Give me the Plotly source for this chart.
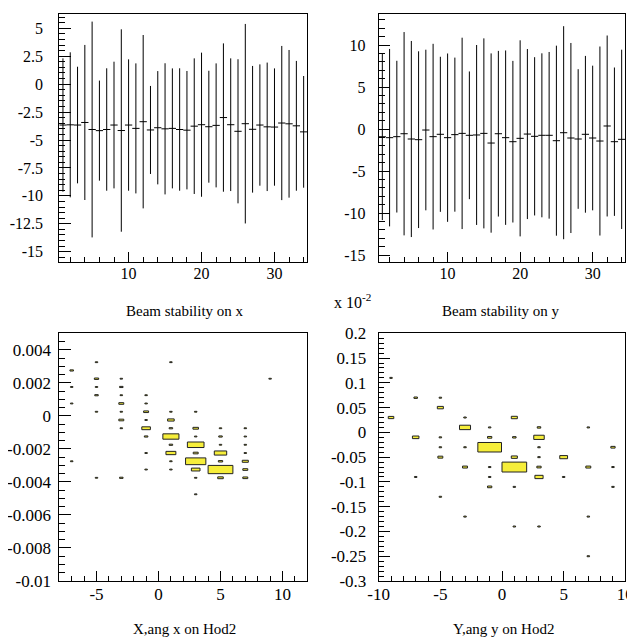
import plotly.graph_objects as go
import numpy as np

# reference canvas size and the page's default body margin
REF_W, REF_H = 635, 638
OFF = 8
W, H = REF_W - OFF, REF_H - OFF

# ---------------- data ----------------
bin_index = list(range(1, 35))
stab_x_mean = [-3.66, -3.64, -3.66, -3.43, -4.06, -4.16, -4.06, -3.66, -4.15, -3.66,
               -3.96, -3.36, -4.10, -3.90, -4.00, -3.96, -4.06, -4.12, -3.76, -3.63,
               -3.81, -3.69, -2.99, -3.63, -4.22, -3.54, -4.04, -3.66, -3.82, -3.84,
               -3.48, -3.55, -3.73, -4.27]
stab_x_err = [5.97, 6.49, 5.22, 6.94, 9.66, 4.48, 5.48, 5.67, 9.06, 5.88,
              5.82, 7.76, 3.94, 5.07, 5.87, 5.37, 5.48, 5.30, 6.07, 6.45,
              5.01, 5.55, 6.64, 5.94, 6.45, 8.93, 5.67, 5.43, 5.75, 5.25,
              6.90, 6.61, 5.81, 5.00]

stab_y_mean = [-0.92, -1.03, -0.91, -0.56, -1.19, -1.27, -0.12, -0.91, -0.63, -1.03,
               -0.67, -0.52, -0.75, -0.71, -0.52, -1.67, -0.56, -1.03, -1.51, -1.11,
               -0.60, -0.87, -0.75, -0.75, -1.39, -0.44, -1.07, -1.19, -0.63, -1.07,
               -1.43, 0.36, -1.51, -1.23]
stab_y_err = [9.92, 10.56, 9.03, 12.10, 11.67, 10.52, 9.56, 11.05, 9.23, 10.02,
              9.17, 11.39, 7.60, 10.71, 11.31, 10.67, 9.86, 10.38, 9.62, 11.67,
              10.12, 9.42, 9.76, 9.92, 11.31, 12.68, 11.31, 8.31, 9.33, 8.61,
              11.25, 10.77, 8.83, 10.67]

# X vs angle x on Hod2 (2D histogram cells: bin centre x, bin centre y, content)
hx_x = [-7, -7, -7, -7,
        -5, -5, -5, -5, -5, -5,
        -3, -3, -3, -3, -3, -3, -3, -3,
        -1, -1, -1, -1, -1, -1, -1, -1,
        1, 1, 1, 1, 1, 1, 1, 1, 1,
        3, 3, 3, 3, 3, 3, 3, 3, 3,
        5, 5, 5, 5, 5, 5, 5,
        7, 7, 7, 7, 7, 7, 7,
        9]
hx_y = [0.00275, 0.00175, 0.00075, -0.00275,
        0.00325, 0.00225, 0.00175, 0.00125, 0.00025, -0.00375,
        0.00225, 0.00175, 0.00125, 0.00075, 0.00025, -0.00025, -0.00075, -0.00375,
        0.00125, 0.00075, 0.00025, -0.00025, -0.00075, -0.00125, -0.00225, -0.00325,
        0.00325, 0.00025, -0.00025, -0.00075, -0.00125, -0.00175, -0.00225, -0.00275, -0.00325,
        0.00025, -0.00075, -0.00125, -0.00175, -0.00225, -0.00275, -0.00325, -0.00375, -0.00475,
        -0.00075, -0.00125, -0.00175, -0.00225, -0.00275, -0.00325, -0.00375,
        -0.00075, -0.00125, -0.00175, -0.00225, -0.00275, -0.00325, -0.00375,
        0.00225]
hx_n = [2, 1, 1, 1,
        1, 3, 1, 2, 1, 1,
        1, 2, 1, 4, 1, 4, 1, 2,
        1, 1, 4, 1, 12, 2, 1, 1,
        1, 1, 7, 2, 42, 2, 16, 1, 1,
        1, 5, 1, 45, 4, 67, 12, 1, 1,
        1, 2, 1, 25, 3, 100, 5,
        1, 1, 1, 1, 6, 4, 4,
        1]

# Y vs angle y on Hod2
hy_x = [-9, -9,
        -7, -7, -7,
        -5, -5, -5, -5, -5, -5,
        -3, -3, -3, -3, -3,
        -1, -1, -1, -1, -1, -1,
        1, 1, 1, 1, 1, 1,
        3, 3, 3, 3, 3, 3, 3,
        5, 5,
        7, 7, 7, 7,
        9, 9, 9]
hy_y = [0.11, 0.03,
        0.07, -0.01, -0.09,
        0.07, 0.05, -0.01, -0.03, -0.05, -0.13,
        0.03, 0.01, -0.03, -0.07, -0.17,
        0.01, -0.01, -0.03, -0.07, -0.09, -0.11,
        0.03, -0.01, -0.05, -0.07, -0.11, -0.19,
        0.01, -0.01, -0.03, -0.05, -0.07, -0.09, -0.19,
        -0.05, -0.09,
        0.01, -0.07, -0.17, -0.25,
        -0.03, -0.07, -0.11]
hy_n = [1, 5,
        2, 7, 1,
        1, 6, 1, 1, 4, 1,
        1, 20, 1, 4, 1,
        1, 3, 92, 1, 1, 3,
        6, 2, 6, 100, 1, 1,
        2, 18, 1, 1, 3, 11, 1,
        10, 1,
        1, 4, 1, 1,
        3, 1, 1]

tl_yticks = [5, 2.5, 0, -2.5, -5, -7.5, -10, -12.5, -15]
tl_ytext = ["5", "2.5", "0", "-2.5", "-5", "-7.5", "-10", "-12.5", "-15"]
tr_yticks = [10, 5, 0, -5, -10, -15]
tr_ytext = ["10", "5", "0", "-5", "-10", "-15"]
top_xticks = [10, 20, 30]
top_xtext = ["10", "20", "30"]
bl_yticks = [0.004, 0.002, 0, -0.002, -0.004, -0.006, -0.008, -0.01]
bl_ytext = ["0.004", "0.002", "0", "-0.002", "-0.004", "-0.006", "-0.008", "-0.01"]
bl_xticks = [-5, 0, 5, 10]
bl_xtext = ["-5", "0", "5", "10"]
br_yticks = [0.2, 0.15, 0.1, 0.05, 0, -0.05, -0.1, -0.15, -0.2, -0.25, -0.3]
br_ytext = ["0.2", "0.15", "0.1", "0.05", "0", "-0.05", "-0.1", "-0.15", "-0.2", "-0.25", "-0.3"]
br_xticks = [-10, -5, 0, 5, 10]
br_xtext = ["-10", "-5", "0", "5", "10"]

# ---------------- layout helpers ----------------
FONT = "Liberation Serif, Times New Roman, serif"


def px_x(p):
    return (p - OFF) / W


def px_y(p):
    return 1 - (p - OFF) / H


fig = go.Figure()

fig.add_trace(go.Scatter(
    x=bin_index, y=stab_x_mean, mode="markers",
    marker=dict(size=1, color="black", opacity=0),
    error_y=dict(type="data", array=stab_x_err, width=0, thickness=1, color="black"),
    error_x=dict(type="constant", value=0.5, width=0, thickness=1, color="black"),
    xaxis="x", yaxis="y", showlegend=False))

fig.add_trace(go.Scatter(
    x=bin_index, y=stab_y_mean, mode="markers",
    marker=dict(size=1, color="black", opacity=0),
    error_y=dict(type="data", array=stab_y_err, width=0, thickness=1, color="black"),
    error_x=dict(type="constant", value=0.5, width=0, thickness=1, color="black"),
    xaxis="x2", yaxis="y2", showlegend=False))

shapes = []


def add_boxes(xs, ys, ns, bw, bh, xref, yref):
    nmax = max(ns)
    for xc, yc, n in zip(xs, ys, ns):
        r = np.sqrt(n / nmax)
        shapes.append(dict(
            type="rect", xref=xref, yref=yref,
            x0=xc - 0.5 * bw * r, x1=xc + 0.5 * bw * r,
            y0=yc - 0.5 * bh * r, y1=yc + 0.5 * bh * r,
            fillcolor="#f6ee3a", line=dict(color="#222222", width=1), layer="above"))


add_boxes(hx_x, hx_y, hx_n, 2.0, 0.0005, "x3", "y3")
add_boxes(hy_x, hy_y, hy_n, 2.0, 0.02, "x4", "y4")

# invisible traces to anchor bottom axes
fig.add_trace(go.Scatter(x=hx_x, y=hx_y, mode="markers", marker=dict(opacity=0),
                         xaxis="x3", yaxis="y3", showlegend=False, hoverinfo="skip"))
fig.add_trace(go.Scatter(x=hy_x, y=hy_y, mode="markers", marker=dict(opacity=0),
                         xaxis="x4", yaxis="y4", showlegend=False, hoverinfo="skip"))


def axis(domain, rng, tickvals, ticktext, major_len, minor_dtick, minor_len, anchor,
         standoff, fsize):
    return dict(
        domain=domain, range=rng, anchor=anchor, automargin=False,
        tickmode="array", tickvals=tickvals, ticktext=ticktext,
        ticks="inside", ticklen=major_len, tickwidth=1, tickcolor="black",
        minor=dict(ticks="inside", tickmode="linear", tick0=0, dtick=minor_dtick,
                   ticklen=minor_len, tickwidth=1, tickcolor="black", showgrid=False),
        showline=True, linecolor="black", linewidth=1, mirror=True,
        showgrid=False, zeroline=False,
        tickfont=dict(family=FONT, size=fsize, color="black"),
        ticklabelstandoff=standoff,
    )


xdomL = [px_x(59.3), px_x(307.3)]
xdomR = [px_x(378.7), px_x(625.3)]
ydomT = [px_y(262), px_y(14)]
ydomB = [px_y(581), px_y(333.3)]

fig.update_layout(
    width=W, height=H,
    margin=dict(l=0, r=0, t=0, b=0, autoexpand=False),
    paper_bgcolor="white", plot_bgcolor="white",
    showlegend=False,
    xaxis=axis(xdomL, [0.5, 34.5], top_xticks, top_xtext, 10, 2, 5, "y", -3, 16),
    yaxis=axis(ydomT, [-15.92, 6.28], tl_yticks, tl_ytext, 12, 0.5, 6, "x", 12, 16),
    xaxis2=axis(xdomR, [0.5, 34.5], top_xticks, top_xtext, 10, 2, 5, "y2", -3, 16),
    yaxis2=axis(ydomT, [-15.83, 13.69], tr_yticks, tr_ytext, 11, 1, 6, "x2", 9, 16),
    xaxis3=axis(xdomL, [-8, 12], bl_xticks, bl_xtext, 10, 1, 5, "y3", -2, 17),
    yaxis3=axis(ydomB, [-0.01, 0.005], bl_yticks, bl_ytext, 12, 0.0005, 6, "x3", 4, 17),
    xaxis4=axis(xdomR, [-10, 10], br_xticks, br_xtext, 10, 1, 5, "y4", -2, 17),
    yaxis4=axis(ydomB, [-0.3, 0.2], br_yticks, br_ytext, 11, 0.01, 5, "x4", 8, 17),
    shapes=shapes,
)

titles = [
    ("Beam stability on x", 185, 311),
    ("Beam stability on y", 501, 311),
    ("X,ang x on Hod2", 185, 629),
    ("Y,ang y on Hod2", 503, 629),
]
for txt, xpx, ypx in titles:
    fig.add_annotation(text=txt, x=px_x(xpx), y=px_y(ypx), xref="paper", yref="paper",
                       showarrow=False, xanchor="center", yanchor="middle",
                       font=dict(family=FONT, size=15, color="black"))

fig.add_annotation(text="x 10<sup>-2</sup>", x=px_x(332), y=px_y(301), xref="paper", yref="paper",
                   showarrow=False, xanchor="left", yanchor="middle",
                   font=dict(family=FONT, size=16, color="black"))

fig.write_html("out.html")
